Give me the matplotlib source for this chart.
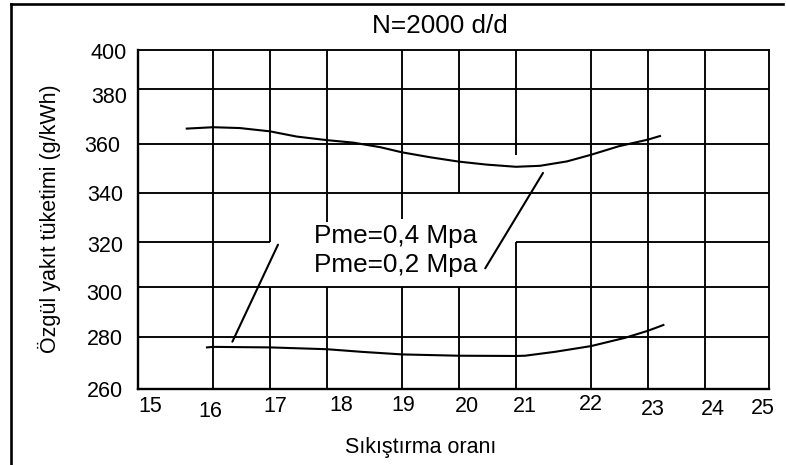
import numpy as np
import matplotlib
matplotlib.use("Agg")
import matplotlib.pyplot as plt
from matplotlib.lines import Line2D
from matplotlib.transforms import ScaledTranslation

plt.rcParams['font.family'] = ['Liberation Sans', 'DejaVu Sans']

# --- DATA: specific fuel consumption vs compression ratio, N=2000 rpm ---
X_TICKS = [15, 16, 17, 18, 19, 20, 21, 22, 23, 24, 25]
Y_TICKS = [260, 280, 300, 320, 340, 360, 380, 400]

# Pme = 0.2 MPa (upper curve)
ratio_02 = [15.65, 16.0, 16.47, 17.0, 17.47, 18.0, 18.35, 18.71, 19.0, 19.49,
            20.0, 20.48, 21.0, 21.32, 21.68, 22.0, 22.49, 23.0, 23.21]
sfc_02 = [365.6, 366.1, 365.8, 364.6, 362.7, 361.4, 360.5, 358.7, 356.6, 354.6,
          352.8, 351.6, 350.7, 351.1, 352.9, 355.6, 359.1, 361.6, 362.9]

# Pme = 0.4 MPa (lower curve)
ratio_04 = [15.92, 16.0, 17.0, 18.0, 18.46, 19.0, 20.0, 21.0, 21.12, 21.52,
            22.0, 22.6, 23.0, 23.27]
sfc_04 = [276.0, 276.2, 276.0, 275.3, 274.3, 273.3, 272.8, 272.7, 272.8, 274.3,
          276.5, 279.7, 282.5, 284.8]

LABEL_04 = "Pme=0,4 Mpa"
LABEL_02 = "Pme=0,2 Mpa"

# --- AXIS GEOMETRY: the drawn grid is not evenly spaced (pixels from axes origin) ---
X_TICK_PX = [0, 75, 132, 189, 264, 321, 378, 453, 510, 567, 631]
Y_TICK_PX = [0, 52, 102, 147, 196, 245, 300, 339]

# grid segments that are left out behind the label block
V_GAPS = {17: (300, 320), 18: (300, 328.2), 19: (300, 329.5), 20: (300, 340), 21: (320, 355.5)}
H_GAPS = {320: (17, 21)}

# small hand placement offsets of the tick labels (px right, px down)
X_NUDGE = [(12, 0), (-3, 5), (5, 0), (14, -1), (1, -1), (8, 0), (9, 0), (0, -2), (5, 3), (8, 3), (-6, 2)]
Y_NUDGE = [(0, 0), (-1, 0), (-1, 5), (0, 2), (0, 0), (-3, 0), (4, 6), (3, 1)]

W, H, DPI = 786, 465, 100
fig = plt.figure(figsize=(W / DPI, H / DPI), dpi=DPI)
ax = fig.add_axes([138 / W, 1 - 389 / H, 631 / W, 339 / H])

ax.set_xscale('function', functions=(lambda v: np.interp(v, X_TICKS, X_TICK_PX),
                                     lambda p: np.interp(p, X_TICK_PX, X_TICKS)))
ax.set_yscale('function', functions=(lambda v: np.interp(v, Y_TICKS, Y_TICK_PX),
                                     lambda p: np.interp(p, Y_TICK_PX, Y_TICKS)))
ax.set_xlim(X_TICKS[0], X_TICKS[-1])
ax.set_ylim(Y_TICKS[0], Y_TICKS[-1])

# grid, with the breaks
GRID_LW = 1.35
for xv in X_TICKS[1:-1]:
    lo, hi = V_GAPS.get(xv, (None, None))
    if lo is None:
        ax.vlines(xv, Y_TICKS[0], Y_TICKS[-1], color='black', lw=GRID_LW, zorder=1)
    else:
        ax.vlines(xv, Y_TICKS[0], lo, color='black', lw=GRID_LW, zorder=1)
        ax.vlines(xv, hi, Y_TICKS[-1], color='black', lw=GRID_LW, zorder=1)
for yv in Y_TICKS[1:-1]:
    lo, hi = H_GAPS.get(yv, (None, None))
    if lo is None:
        ax.hlines(yv, X_TICKS[0], X_TICKS[-1], color='black', lw=GRID_LW, zorder=1)
    else:
        ax.hlines(yv, X_TICKS[0], lo, color='black', lw=GRID_LW, zorder=1)
        ax.hlines(yv, hi, X_TICKS[-1], color='black', lw=GRID_LW, zorder=1)

for side in ['left', 'bottom']:
    ax.spines[side].set_linewidth(1.7)
for side in ['top', 'right']:
    ax.spines[side].set_linewidth(GRID_LW)

# curves
ax.plot(ratio_02, sfc_02, color='black', lw=1.5, zorder=3)
ax.plot(ratio_04, sfc_04, color='black', lw=1.5, zorder=3)

# label block and leader lines
ax.text(17.77, 319.6, LABEL_04, fontsize=18.8, ha='left', va='baseline', zorder=4)
ax.text(17.77, 306.7, LABEL_02, fontsize=18.8, ha='left', va='baseline', zorder=4)
ax.annotate("", xy=(16.34, 278.2), xytext=(17.14, 318.8),
            arrowprops=dict(arrowstyle='-', lw=1.5, color='black', shrinkA=0, shrinkB=0))
ax.annotate("", xy=(21.36, 348.2), xytext=(20.46, 308.3),
            arrowprops=dict(arrowstyle='-', lw=1.5, color='black', shrinkA=0, shrinkB=0))

# ticks
ax.set_xticks(X_TICKS)
ax.set_yticks(Y_TICKS)
ax.set_xticklabels([str(v) for v in X_TICKS])
ax.set_yticklabels([str(v) for v in Y_TICKS])
ax.tick_params(axis='both', length=0, labelsize=15.5)
ax.tick_params(axis='x', pad=5)
ax.tick_params(axis='y', pad=10.5)
ax.minorticks_off()

for tick, (dx, dy) in zip(ax.xaxis.get_major_ticks(), X_NUDGE):
    lab = tick.label1
    lab.set_transform(lab.get_transform() + ScaledTranslation(dx / DPI, -dy / DPI, fig.dpi_scale_trans))
for tick, (dx, dy) in zip(ax.yaxis.get_major_ticks(), Y_NUDGE):
    lab = tick.label1
    lab.set_transform(lab.get_transform() + ScaledTranslation(dx / DPI, -dy / DPI, fig.dpi_scale_trans))

# titles
fig.text(440 / W, 1 - 33 / H, "N=2000 d/d", fontsize=18.8, ha='center', va='baseline')
fig.text(421 / W, 1 - 453 / H, "Sıkıştırma oranı", fontsize=15.5, ha='center', va='baseline')
fig.text(49 / W, 1 - 219 / H, "Özgül yakıt tüketimi (g/kWh)", fontsize=15.5,
         rotation=90, ha='center', va='center')

# frame around the sheet (top and left edges)
fig.add_artist(Line2D([11.3 / W, 783 / W], [1 - 4.5 / H, 1 - 4.5 / H], color='black', lw=1.9))
fig.add_artist(Line2D([11.3 / W, 11.3 / W], [0, 1 - 4.5 / H], color='black', lw=1.9))

fig.savefig("out.png", dpi=DPI)
